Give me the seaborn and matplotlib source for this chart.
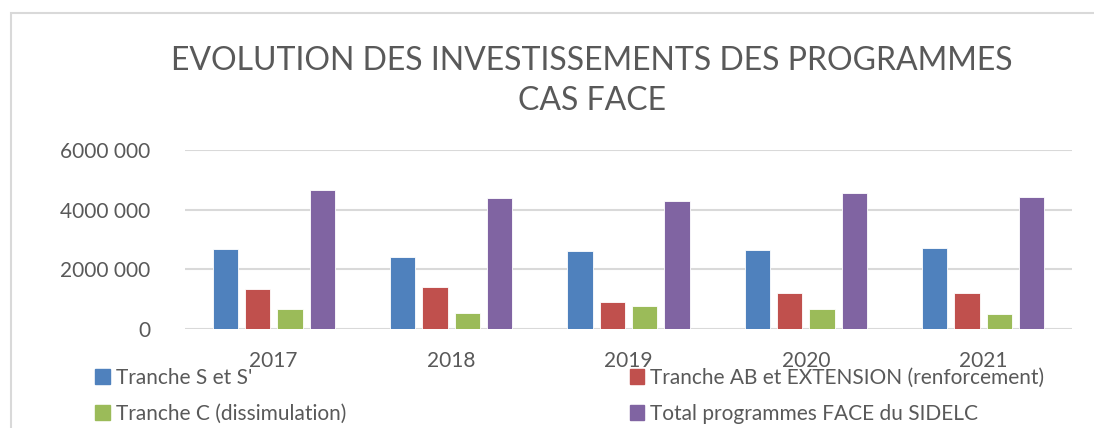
import numpy as np
import pandas as pd
import matplotlib.pyplot as plt
import matplotlib.patches as mpatches
import seaborn as sns

years = ['2017', '2018', '2019', '2020', '2021']
series = ["Tranche S et S'",
          "Tranche AB et EXTENSION (renforcement)",
          "Tranche C (dissimulation)",
          "Total programmes FACE du SIDELC"]
tranche_s = [2680000, 2430000, 2620000, 2660000, 2730000]
tranche_ab = [1330000, 1420000, 900000, 1210000, 1190000]
tranche_c = [660000, 530000, 770000, 680000, 490000]
total = [4670000, 4400000, 4300000, 4560000, 4410000]
yticks = [0, 2000000, 4000000, 6000000]
ytick_labels = ['0', '2000 000', '4000 000', '6000 000']
colors = ['#4F81BD', '#C0504D', '#9BBB59', '#8064A2']

df = pd.DataFrame({
    'annee': years * 4,
    'serie': np.repeat(series, len(years)),
    'valeur': tranche_s + tranche_ab + tranche_c + total,
})

sns.set_style('white')
plt.rcParams['font.family'] = ['Lato', 'DejaVu Sans']
txt = '#595959'

fig = plt.figure(figsize=(10.94, 4.28), dpi=100)
ax = fig.add_axes([185/1094, 1 - 329/428, 887/1094, 179/428])

sns.barplot(data=df, x='annee', y='valeur', hue='serie', hue_order=series,
            palette=colors, saturation=1, width=0.73, gap=0.22, ax=ax,
            legend=False, edgecolor='white', linewidth=0.6)

ax.set_xlim(-0.5, 4.5)
ax.set_ylim(0, 6000000)
ax.set_yticks(yticks)
ax.set_yticklabels(ytick_labels)
ax.yaxis.grid(True, color='#D9D9D9', linewidth=1.5)
ax.set_axisbelow(True)
for s in ax.spines.values():
    s.set_visible(False)
ax.tick_params(axis='y', length=0, pad=25, labelsize=15, labelcolor=txt)
ax.tick_params(axis='x', length=0, pad=16, labelsize=15, labelcolor=txt)
ax.set_xlabel('')
ax.set_ylabel('')

fig.text(592/1094, 1 - 81/428,
         'EVOLUTION DES INVESTISSEMENTS DES PROGRAMMES\nCAS FACE',
         ha='center', va='center', fontsize=23, color=txt, linespacing=1.45)

# legend: rows are (S, AB) and (C, Total)
handles = [mpatches.Patch(color=c) for c in colors]
order = [0, 2, 1, 3]
fig.legend([handles[i] for i in order], [series[i] for i in order],
           loc='upper left', bbox_to_anchor=(95/1094, 1 - 368/428), ncol=2,
           frameon=False, fontsize=15, labelcolor=txt, handlelength=0.7,
           handleheight=0.7, handletextpad=0.3, columnspacing=13.6,
           labelspacing=0.75, borderaxespad=0, borderpad=0)

fig.patches.append(mpatches.Rectangle((11/1094, -0.1), 1.2, 1.1 - 13/428,
                                      transform=fig.transFigure, fill=False,
                                      edgecolor='#D9D9D9', linewidth=1.5))

fig.savefig('out.png', dpi=100)
